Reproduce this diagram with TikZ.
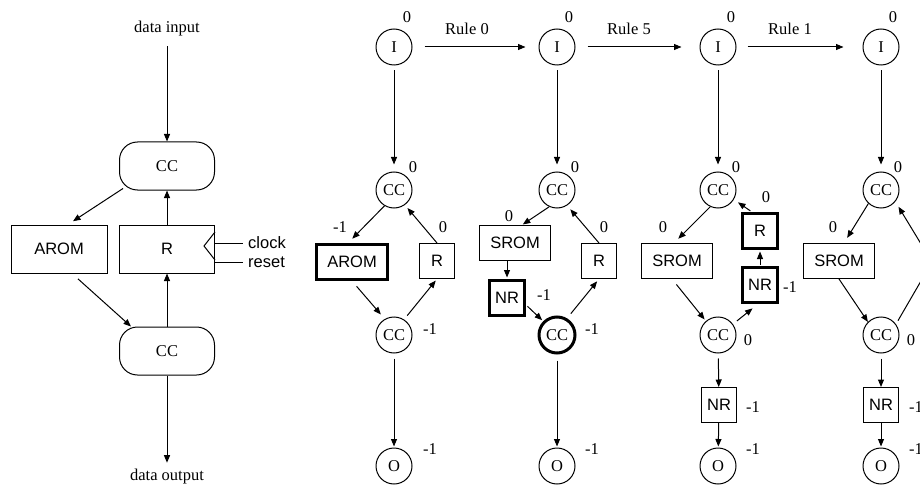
\documentclass[tikz,border=0pt]{standalone}
\usepackage{fontspec}
\setmainfont{Liberation Serif}
\setsansfont{Liberation Sans}
\usetikzlibrary{arrows.meta}
\begin{document}
\begin{tikzpicture}[x=1pt,y=-1pt,
  every node/.style={font=\fontsize{16.5}{19}\selectfont, inner sep=0pt},
  circ/.style={draw, circle, minimum size=36pt, line width=1pt},
  sbox/.style={draw, rectangle, minimum width=35pt, minimum height=35pt, line width=1pt, font=\sffamily\fontsize{16.5}{19}\selectfont},
  wbox/.style={sbox, minimum width=71pt},
  bigbox/.style={sbox, minimum width=95pt, minimum height=48pt},
  pill/.style={draw, rectangle, rounded corners=18pt, minimum width=95pt, minimum height=48pt, line width=1pt},
  thick3/.style={line width=3pt},
  lab/.style={font=\fontsize{16.5}{19}\selectfont},
  slab/.style={font=\sffamily\fontsize{16.5}{19}\selectfont, anchor=west},
  arr/.style={-{Triangle[length=7.5pt,width=6pt]}, line width=1pt},
  ln/.style={line width=1pt}
]
\useasboundingbox (0,0) rectangle (920,489);
\clip (0,0) rectangle (920,489);

% ---------------- left diagram ----------------
\node[lab] (din) at (167,29) {data input};
\node[pill] (ccA) at (167,166) {CC};
\node[bigbox, minimum width=96pt] (arom) at (59,249) {AROM};
\node[bigbox] (rA) at (167,249) {R};
\node[pill] (ccB) at (167,351) {CC};
\node[lab] (dout) at (167,477) {data output};
\node[slab] (clk) at (248,243) {clock};
\node[slab] (rst) at (248,262) {reset};

\draw[arr, shorten <=9.5pt] (din) -- (ccA);
\draw[arr, shorten >=6pt] ([xshift=4pt,yshift=2pt]ccA.south west) -- ([xshift=9pt]arom.north);
\draw[arr] (rA) -- (ccA);
\draw[arr, shorten <=8pt] ([xshift=13pt]arom.south) -- ([xshift=12pt]ccB.north west);
\draw[arr] (ccB) -- (rA);
\draw[arr, shorten >=6.6pt] (ccB) -- (dout);
\draw[ln] ([yshift=17pt]rA.east) -- ([xshift=-11pt,yshift=3pt]rA.east) -- ([yshift=-11pt]rA.east);
\draw[ln, shorten >=5pt] ([yshift=6pt]rA.east) -- (clk.west);
\draw[ln, shorten >=5pt] ([yshift=-13pt]rA.east) -- (rst.west);

% ---------------- column 1 ----------------
\node[circ] (i1) at (394,47) {I};
\node[circ] (c1) at (394,190) {CC};
\node[wbox, thick3] (a1) at (352,262) {AROM};
\node[sbox] (r1) at (437,261) {R};
\node[circ] (d1) at (394,335) {CC};
\node[circ] (o1) at (394,466) {O};
\node[lab] (li1) at (407,17) {0};
\node[lab] (lc1) at (413,167) {0};
\node[lab] (la1) at (340,227) {-1};
\node[lab] (lr1) at (443,227) {0};
\node[lab] (ld1) at (430,329) {-1};
\node[lab] (lo1) at (430,449) {-1};
\draw[arr, shorten <=5pt, shorten >=7pt] (i1) -- (c1);
\draw[arr, shorten >=6pt] (c1.239) -- ([xshift=-4pt]a1.north);
\draw[arr, shorten >=4pt] (r1.north) -- (c1.306);
\draw[arr, shorten <=7pt, shorten >=6pt] (a1.south) -- (d1.120);
\draw[arr, shorten <=5pt, shorten >=2pt] (d1.57) -- (r1.south);
\draw[arr, shorten <=5pt, shorten >=1pt] (d1) -- (o1);

% ---------------- column 2 ----------------
\node[circ] (i2) at (557,47) {I};
\node[circ] (c2) at (557,190) {CC};
\node[wbox] (s2) at (515,243) {SROM};
\node[sbox, thick3] (n2) at (507,298) {NR};
\node[sbox] (r2) at (599,261) {R};
\node[circ, thick3] (d2) at (557,335) {CC};
\node[circ] (o2) at (557,466) {O};
\node[lab] (li2) at (569,17) {0};
\node[lab] (lc2) at (575,167) {0};
\node[lab] (ls2) at (509,216) {0};
\node[lab] (ln2) at (544,295) {-1};
\node[lab] (lr2) at (604,227) {0};
\node[lab] (ld2) at (592,329) {-1};
\node[lab] (lo2) at (592,449) {-1};
\draw[arr, shorten <=5pt, shorten >=7pt] (i2) -- (c2);
\draw[arr, shorten >=1pt] (c2.245) -- ([xshift=7pt]s2.north);
\draw[arr, shorten >=5pt] (r2.north) -- (c2.303);
\draw[arr, shorten >=1.5pt] (s2.south -| n2.north) -- (n2.north);
\draw[arr, shorten <=2pt, shorten >=1.5pt] (n2.-20) -- (d2.135);
\draw[arr, shorten <=6pt, shorten >=3pt] (d2.59) -- (r2.south);
\draw[arr, shorten <=6pt, shorten >=1pt] (d2) -- (o2);

% ---------------- column 3 ----------------
\node[circ] (i3) at (718,47) {I};
\node[circ] (c3) at (718,190) {CC};
\node[wbox] (s3) at (677,261) {SROM};
\node[sbox, thick3] (r3) at (760,231) {R};
\node[sbox, thick3] (n3) at (760,285) {NR};
\node[circ] (d3) at (718,335) {CC};
\node[sbox] (m3) at (719,405) {NR};
\node[circ] (o3) at (718,466) {O};
\node[lab] (li3) at (731,17) {0};
\node[lab] (lc3) at (736,167) {0};
\node[lab] (lr3) at (766,197) {0};
\node[lab] (ls3) at (663,227) {0};
\node[lab] (ln3) at (790,287) {-1};
\node[lab] (ld3) at (748,340) {0};
\node[lab] (lm3) at (753,407) {-1};
\node[lab] (lo3) at (753,449) {-1};
\draw[arr, shorten <=5pt, shorten >=7pt] (i3) -- (c3);
\draw[arr, shorten >=6pt] (c3.245) -- ([xshift=-3pt]s3.north);
\draw[arr, shorten <=2pt, shorten >=5pt] ([xshift=-8pt]r3.north) -- (c3.329);
\draw[arr, shorten <=1.5pt, shorten >=1.5pt] (n3) -- (r3);
\draw[arr, shorten <=7pt, shorten >=2pt] ([xshift=-5pt]s3.south) -- (d3.131);
\draw[arr, shorten <=5pt, shorten >=7pt] (d3.36) -- ([xshift=-2pt]n3.south);
\draw[arr, shorten <=5pt] (d3) -- (m3);
\draw[arr, shorten >=1pt] (m3) -- (o3);

% ---------------- column 4 ----------------
\node[circ] (i4) at (881,47) {I};
\node[circ] (c4) at (881,190) {CC};
\node[wbox] (s4) at (839,261) {SROM};
\node[circ] (d4) at (881,335) {CC};
\node[sbox] (m4) at (881,405) {NR};
\node[circ] (o4) at (881,466) {O};
\coordinate (r4) at (932,262);
\node[lab] (li4) at (893,17) {0};
\node[lab] (lc4) at (898,167) {0};
\node[lab] (ls4) at (833,227) {0};
\node[lab] (ld4) at (911,340) {0};
\node[lab] (lm4) at (916,407) {-1};
\node[lab] (lo4) at (916,449) {-1};
\draw[arr, shorten <=5pt, shorten >=7pt] (i4) -- (c4);
\draw[arr, shorten >=6pt] (c4.227) -- ([xshift=5pt]s4.north);
\draw[arr] (s4.south) -- (d4.135);
\draw[arr, shorten <=4pt] (d4.36) -- (r4);
\draw[arr, shorten >=6pt] (r4) -- (c4.321);
\draw[arr, shorten <=5pt] (d4) -- (m4);
\draw[arr, shorten >=1pt] (m4) -- (o4);

% ---------------- rule arrows ----------------
\draw[arr, shorten <=12pt, shorten >=13pt] (i1) -- (i2);
\node[lab] (rule0) at (467,29) {Rule 0};
\draw[arr, shorten <=12pt, shorten >=18pt] (i2) -- (i3);
\node[lab] (rule5) at (629,29) {Rule 5};
\draw[arr, shorten <=11pt, shorten >=19pt] (i3) -- (i4);
\node[lab] (rule1) at (790,29) {Rule 1};
\end{tikzpicture}
\end{document}
